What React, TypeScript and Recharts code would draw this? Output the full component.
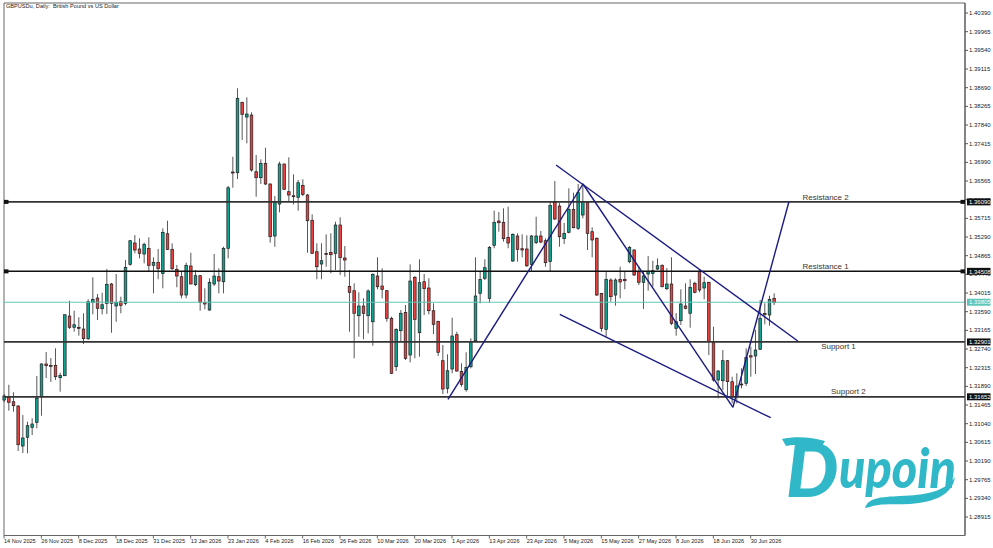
import { Bar, ComposedChart, ReferenceArea, ReferenceDot, ReferenceLine, XAxis, YAxis } from "recharts";

const highs = [
  1.31716, 1.31927, 1.31754, 1.31465, 1.31237, 1.31085, 1.31162, 1.32125, 1.32415, 1.32672,
  1.32535, 1.32756, 1.32201, 1.33521, 1.33840, 1.33612, 1.33462, 1.33553, 1.33872, 1.34372,
  1.33992, 1.34022, 1.34561, 1.34243, 1.34448, 1.33931, 1.34766, 1.35222, 1.35335, 1.35260,
  1.35161, 1.35283, 1.34827, 1.35017, 1.35488, 1.35661, 1.35146, 1.34652, 1.34500, 1.34705,
  1.34932, 1.34539, 1.34425, 1.34122, 1.34350, 1.34903, 1.34577, 1.35069, 1.36451, 1.37118,
  1.38675, 1.38370, 1.38470, 1.38129, 1.37157, 1.37059, 1.37323, 1.36513, 1.36223, 1.37004,
  1.36963, 1.37105, 1.36717, 1.36588, 1.36604, 1.36269, 1.35807, 1.35146, 1.35146, 1.35351,
  1.35374, 1.35638, 1.35738, 1.35085, 1.34539, 1.34236, 1.34031, 1.33894, 1.34099, 1.34463,
  1.34828, 1.34577, 1.34083, 1.33475, 1.33211, 1.33628, 1.33742, 1.34668, 1.34402, 1.34782,
  1.34448, 1.34350, 1.33781, 1.33384, 1.32831, 1.32619, 1.33453, 1.33134, 1.32415, 1.32665,
  1.32984, 1.34828, 1.34516, 1.34782, 1.35085, 1.35889, 1.35859, 1.35943, 1.35980, 1.35374,
  1.35374, 1.35351, 1.35329, 1.35336, 1.35752, 1.35427, 1.35260, 1.36109, 1.36565, 1.36064,
  1.35609, 1.36398, 1.36299, 1.36497, 1.36513, 1.36093, 1.35511, 1.35283, 1.34015, 1.34500,
  1.34350, 1.34350, 1.34614, 1.34500, 1.35085, 1.35010, 1.34614, 1.34523, 1.34857, 1.34750,
  1.34805, 1.34668, 1.34584, 1.34828, 1.33560, 1.34099, 1.34236, 1.34327, 1.34272, 1.34554,
  1.34386, 1.34272, 1.33248, 1.32262, 1.32717, 1.32490, 1.32109, 1.32187, 1.32300, 1.32756,
  1.32793, 1.33173, 1.33856, 1.33781, 1.33954, 1.34008,
];

const lows = [
  1.31533, 1.31335, 1.31313, 1.30418, 1.30372, 1.30365, 1.30782, 1.30935, 1.31222, 1.32080,
  1.31989, 1.32034, 1.31768, 1.32132, 1.33195, 1.33134, 1.33043, 1.32854, 1.32945, 1.33530,
  1.33400, 1.33530, 1.33537, 1.33111, 1.33361, 1.33553, 1.33735, 1.34636, 1.34919, 1.34805,
  1.34691, 1.34516, 1.34008, 1.34327, 1.34122, 1.34994, 1.34539, 1.34145, 1.33894, 1.33894,
  1.34220, 1.34174, 1.33612, 1.33644, 1.33612, 1.34174, 1.34008, 1.34008, 1.34805, 1.36412,
  1.36610, 1.37498, 1.37423, 1.36777, 1.36207, 1.36497, 1.36474, 1.35160, 1.35069, 1.35852,
  1.36360, 1.36093, 1.36034, 1.35889, 1.36223, 1.34932, 1.34903, 1.34327, 1.34327, 1.34614,
  1.34463, 1.34539, 1.34425, 1.34386, 1.33134, 1.32528, 1.33020, 1.32961, 1.33097, 1.32815,
  1.34099, 1.33894, 1.33361, 1.32171, 1.32239, 1.32906, 1.32490, 1.32437, 1.32528, 1.32565,
  1.33514, 1.33530, 1.33082, 1.32581, 1.31715, 1.31731, 1.32187, 1.32223, 1.31881, 1.31768,
  1.32300, 1.32906, 1.33781, 1.34311, 1.33794, 1.35033, 1.35411, 1.35183, 1.35033, 1.34728,
  1.34728, 1.34828, 1.34607, 1.34500, 1.35130, 1.35146, 1.34614, 1.34516, 1.35677, 1.35069,
  1.35130, 1.35374, 1.35488, 1.35450, 1.35716, 1.34994, 1.34828, 1.33947, 1.33134, 1.33020,
  1.33817, 1.33726, 1.33894, 1.34099, 1.34691, 1.34402, 1.34197, 1.33651, 1.34068, 1.34158,
  1.34539, 1.34145, 1.34083, 1.33286, 1.33043, 1.33286, 1.33644, 1.33225, 1.34008, 1.34031,
  1.33872, 1.32603, 1.31996, 1.31618, 1.31807, 1.31654, 1.31504, 1.31504, 1.31845, 1.31898,
  1.32109, 1.32171, 1.32717, 1.33302, 1.33270, 1.33742,
];

const opens = [
  1.31579, 1.31647, 1.31540, 1.31442, 1.30532, 1.30730, 1.30957, 1.31071, 1.31654, 1.32399,
  1.32369, 1.32369, 1.32087, 1.32132, 1.33491, 1.33234, 1.33234, 1.33195, 1.32975, 1.33803,
  1.33901, 1.33658, 1.33781, 1.34220, 1.33719, 1.33817, 1.33781, 1.34668, 1.35153, 1.35017,
  1.34903, 1.35033, 1.34646, 1.34714, 1.34463, 1.35365, 1.35010, 1.34554, 1.34386, 1.33969,
  1.34630, 1.34204, 1.34409, 1.33795, 1.33628, 1.34220, 1.34386, 1.34272, 1.35033, 1.36770,
  1.36754, 1.38357, 1.38022, 1.38067, 1.36777, 1.36640, 1.36968, 1.36497, 1.35313, 1.36041,
  1.36952, 1.36321, 1.36230, 1.36194, 1.36467, 1.36246, 1.35670, 1.34955, 1.34675, 1.34914,
  1.34941, 1.34919, 1.35563, 1.34812, 1.34167, 1.34068, 1.33498, 1.33719, 1.33498, 1.33361,
  1.34402, 1.34174, 1.34068, 1.33439, 1.32337, 1.33157, 1.33575, 1.32603, 1.34372, 1.33111,
  1.34272, 1.34129, 1.33612, 1.33370, 1.32474, 1.31845, 1.32285, 1.33066, 1.32232, 1.31813,
  1.32337, 1.32929, 1.34008, 1.34350, 1.33894, 1.35101, 1.35654, 1.35625, 1.35283, 1.34743,
  1.35313, 1.35024, 1.35017, 1.34668, 1.35160, 1.35313, 1.35206, 1.34730, 1.36079, 1.35996,
  1.35252, 1.35397, 1.35920, 1.35488, 1.35791, 1.36071, 1.35411, 1.35260, 1.34008, 1.33188,
  1.34311, 1.33969, 1.34327, 1.34327, 1.34728, 1.34994, 1.34500, 1.34259, 1.34447, 1.34463,
  1.34561, 1.34646, 1.34113, 1.34220, 1.33211, 1.33384, 1.33719, 1.33553, 1.34236, 1.34500,
  1.34129, 1.34259, 1.32883, 1.32034, 1.32018, 1.32474, 1.31996, 1.31654, 1.31943, 1.31959,
  1.32587, 1.32581, 1.32733, 1.33548, 1.33514, 1.33894,
];

const closes = [
  1.31670, 1.31527, 1.31449, 1.30561, 1.30714, 1.30994, 1.31032, 1.31618, 1.32399, 1.32360,
  1.32346, 1.32109, 1.32141, 1.33521, 1.33234, 1.33293, 1.33211, 1.32975, 1.33817, 1.33872,
  1.33667, 1.33749, 1.34213, 1.33781, 1.33804, 1.33735, 1.34600, 1.35206, 1.34994, 1.34919,
  1.35124, 1.34646, 1.34714, 1.34568, 1.35397, 1.35010, 1.34568, 1.34402, 1.33969, 1.34646,
  1.34220, 1.34409, 1.33804, 1.33765, 1.34259, 1.34402, 1.34288, 1.35033, 1.36412, 1.36747,
  1.38448, 1.38083, 1.38090, 1.36815, 1.36640, 1.36968, 1.36497, 1.35297, 1.36086, 1.36952,
  1.36376, 1.36246, 1.36207, 1.36526, 1.36262, 1.35661, 1.34919, 1.34614, 1.34750, 1.34891,
  1.34887, 1.35563, 1.34819, 1.34766, 1.34031, 1.33553, 1.33719, 1.33553, 1.34061, 1.34440,
  1.34158, 1.34099, 1.33439, 1.32187, 1.33188, 1.33553, 1.32528, 1.34288, 1.33416, 1.34250,
  1.34113, 1.33612, 1.33302, 1.32665, 1.31829, 1.32246, 1.33036, 1.32239, 1.31936, 1.32323,
  1.32915, 1.33947, 1.34327, 1.34591, 1.35055, 1.35625, 1.35616, 1.35252, 1.35153, 1.35351,
  1.35010, 1.34994, 1.34636, 1.35313, 1.35313, 1.35176, 1.34705, 1.36011, 1.35700, 1.35297,
  1.35374, 1.35920, 1.35502, 1.36299, 1.36093, 1.35374, 1.35222, 1.33969, 1.33211, 1.34327,
  1.33931, 1.34311, 1.34266, 1.34295, 1.35055, 1.34425, 1.34259, 1.34402, 1.34500, 1.34523,
  1.34636, 1.34158, 1.34220, 1.33325, 1.33361, 1.33765, 1.33667, 1.34145, 1.34031, 1.34083,
  1.34250, 1.32915, 1.32034, 1.32239, 1.32474, 1.31996, 1.31654, 1.31898, 1.31921, 1.32551,
  1.32557, 1.32717, 1.33439, 1.33525, 1.33872, 1.33795,
];

// 1.36140 and 1.34440 sit under the level boxes in the reference, so they stay in the list
const priceTicks = [
  1.4039, 1.39965, 1.3954, 1.39115, 1.3869, 1.38265, 1.3784, 1.37415, 1.3699, 1.36565,
  1.3614, 1.35715, 1.3529, 1.34865, 1.3444, 1.34015, 1.3359, 1.33165, 1.3274, 1.32315,
  1.3189, 1.31465, 1.3104, 1.30615, 1.3019, 1.29765, 1.2934, 1.28915,
];

const dateTicks = [0, 8, 16, 24, 32, 40, 48, 56, 64, 72, 80, 88, 96, 104, 112, 120, 128, 136, 144, 152, 160];
const dateLabels = [
  "14 Nov 2025", "26 Nov 2025", "8 Dec 2025", "18 Dec 2025", "31 Dec 2025", "13 Jan 2026", "23 Jan 2026",
  "4 Feb 2026", "16 Feb 2026", "26 Feb 2026", "10 Mar 2026", "20 Mar 2026", "1 Apr 2026", "13 Apr 2026",
  "23 Apr 2026", "5 May 2026", "15 May 2026", "27 May 2026", "8 Jun 2026", "18 Jun 2026", "30 Jun 2026",
];

const levels = [
  { price: 1.3609, label: "1.36090", width: 1.8, color: "#333", handle: true },
  { price: 1.34508, label: "1.34508", width: 1.5, color: "#111", handle: true },
  { price: 1.32901, label: "1.32901", width: 1.8, color: "#333", handle: false },
  { price: 1.31652, label: "1.31652", width: 1.8, color: "#333", handle: false },
];

const levelNames = [
  { name: "Resistance 2", at: 171.1, price: 1.36133 },
  { name: "Resistance 1", at: 171.1, price: 1.34561 },
  { name: "Support 1", at: 175.1, price: 1.3274 },
  { name: "Support 2", at: 177.2, price: 1.31727 },
];

const trendLines = [
  [[95.14, 1.31595], [124.07, 1.36497]],
  [[124.07, 1.36497], [156.2, 1.31413]],
  [[156.2, 1.31413], [168.2, 1.36094]],
  [[118.3, 1.36929], [170.1, 1.32922]],
  [[119.1, 1.3353], [164.3, 1.31176]],
];

const lastPrice = 1.33805;
const priceTop = 1.40618;
const priceBottom = 1.28494;
const lastSlot = 205.93;

const FONT = "'Liberation Sans', Arial, sans-serif";
const UP = "#12a08f";
const DOWN = "#e8403f";
const NAVY = "#1b1b82";
const LOGO = "#30b8c8";

const candles = highs.map((high, i) => ({
  i,
  high,
  low: lows[i],
  open: opens[i],
  close: closes[i],
  range: [lows[i], high],
}));

function Candle(props: any) {
  const { x, y, width, height, payload } = props;
  const mid = x + width / 2;
  const perPrice = height / (payload.high - payload.low);
  const top = y + (payload.high - Math.max(payload.open, payload.close)) * perPrice;
  const bodyH = Math.abs(payload.open - payload.close) * perPrice;
  return (
    <g>
      <line x1={mid} x2={mid} y1={y} y2={y + height} stroke="#444" strokeWidth={0.9} />
      <rect
        x={mid - 1.3}
        y={top}
        width={2.6}
        height={Math.max(bodyH, 0.5)}
        fill={payload.close >= payload.open ? UP : DOWN}
        stroke="#1c1c1c"
        strokeWidth={0.7}
      />
    </g>
  );
}

function DateTick(props: any) {
  const { x, y, payload } = props;
  return (
    <text x={x} y={y + 2} fontSize={5.6} fontFamily={FONT} fill="#222">
      {dateLabels[dateTicks.indexOf(payload.value)]}
    </text>
  );
}

function PriceBox(props: any) {
  const { cy, text, boxColor } = props;
  return (
    <g>
      <rect x={967} y={cy - 3.5} width={23.5} height={7} fill={boxColor} />
      <text x={969} y={cy + 2.2} fontSize={6} fontFamily={FONT} fill="#fff">
        {text}
      </text>
    </g>
  );
}

function Handle(props: any) {
  const { cx, cy } = props;
  return <rect x={cx - 4.5} y={cy - 2} width={4.5} height={4} fill="#111" />;
}

function LevelName(props: any) {
  const { cx, cy, text } = props;
  return (
    <text x={cx} y={cy} fontSize={8} fontFamily={FONT} fill="#3d3428">
      {text}
    </text>
  );
}

export default function App() {
  return (
    <div style={{ position: "absolute", left: 0, top: 0, width: 993, height: 548, background: "#fff" }}>
      <ComposedChart
        width={993}
        height={548}
        data={candles}
        margin={{ top: 3, right: 0, bottom: 0, left: 4 }}
      >
        <XAxis
          dataKey="i"
          type="number"
          domain={[0, lastSlot]}
          ticks={dateTicks}
          tick={<DateTick />}
          tickSize={3}
          height={12.5}
          interval={0}
          stroke="#666"
        />
        <YAxis
          orientation="right"
          type="number"
          domain={[priceBottom, priceTop]}
          ticks={priceTicks}
          tickFormatter={(v: number) => v.toFixed(5)}
          tick={{ fontSize: 6, fontFamily: FONT, fill: "#222" }}
          tickSize={3}
          tickMargin={1}
          width={28}
          interval={0}
          stroke="#555"
        />
        <ReferenceArea x1={0} x2={lastSlot} y1={priceBottom} y2={priceTop} fill="none" stroke="#666" />
        <Bar dataKey="range" barSize={3} shape={<Candle />} isAnimationActive={false} />
        <ReferenceLine y={lastPrice} stroke="#5fc5b9" strokeWidth={1} />
        {levels.map((l) => (
          <ReferenceLine key={l.label} y={l.price} stroke={l.color} strokeWidth={l.width} />
        ))}
        {trendLines.map((t, n) => (
          <ReferenceLine
            key={n}
            segment={[
              { x: t[0][0], y: t[0][1] },
              { x: t[1][0], y: t[1][1] },
            ]}
            stroke={NAVY}
            strokeWidth={1.4}
            ifOverflow="visible"
          />
        ))}
        {levels
          .filter((l) => l.handle)
          .flatMap((l) => [
            <ReferenceDot key={l.label + "r"} x={lastSlot} y={l.price} ifOverflow="visible" shape={<Handle />} />,
            <ReferenceDot key={l.label + "l"} x={0.96} y={l.price} ifOverflow="visible" shape={<Handle />} />,
          ])}
        {levels.map((l) => (
          <ReferenceDot
            key={l.label + "b"}
            x={lastSlot}
            y={l.price}
            ifOverflow="visible"
            zIndex={5000}
            shape={<PriceBox text={l.label} boxColor="#111" />}
          />
        ))}
        <ReferenceDot
          x={lastSlot}
          y={lastPrice}
          ifOverflow="visible"
          zIndex={5000}
          shape={<PriceBox text="1.33805" boxColor="#5fc5b9" />}
        />
        {levelNames.map((n) => (
          <ReferenceDot key={n.name} x={n.at} y={n.price} ifOverflow="visible" shape={<LevelName text={n.name} />} />
        ))}
      </ComposedChart>
      <div style={{ position: "absolute", left: 6, top: 3, fontSize: 5.6, fontFamily: FONT, color: "#222" }}>
        GBPUSDu, Daily:&nbsp; British Pound vs US Dollar
      </div>
      <svg width={993} height={548} style={{ position: "absolute", left: 0, top: 0, pointerEvents: "none" }}>
        <text x={786} y={497} fill={LOGO} fontFamily="Lato, sans-serif" fontWeight={900} fontStyle="italic" fontSize={74}>
          D
        </text>
        <text
          x={839}
          y={488}
          fill={LOGO}
          fontFamily="Lato, sans-serif"
          fontWeight={900}
          fontStyle="italic"
          fontSize={56}
          textLength={117}
          lengthAdjust="spacingAndGlyphs"
        >
          upoin
        </text>
        <path
          d="M865 508 C868 498 880 497 900 496 C925 495 945 492 955 477 C952 495 935 502 910 504 C895 505 880 503 870 507 Z"
          fill={LOGO}
        />
        <path d="M782 439 C795 436 812 437 825 441 L822 446 C810 444 797 444 786 446 Z" fill={LOGO} />
      </svg>
    </div>
  );
}
